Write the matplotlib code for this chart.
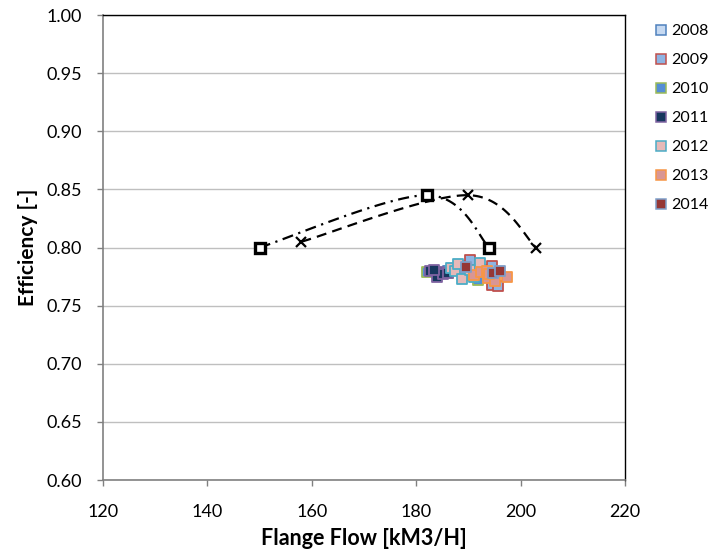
import matplotlib

matplotlib.use("Agg")
import matplotlib.pyplot as plt
from matplotlib.lines import Line2D
import numpy as np

plt.rcParams["font.family"] = ["Lato", "DejaVu Sans"]

# design curves (smoothed lines through 3 points each)
curve_a_x = [150, 182, 194]
curve_a_y = [0.800, 0.845, 0.800]
curve_b_x = [158, 190, 203]
curve_b_y = [0.805, 0.845, 0.800]

# measured points per year
years = ["2008", "2009", "2010", "2011", "2012", "2013", "2014"]
face_colors = ["#c6d9f1", "#8eb4e3", "#558ed5", "#17375e", "#e6b9b8", "#d99694", "#953735"]
edge_colors = ["#4f81bd", "#c0504d", "#9bbb59", "#8064a2", "#4bacc6", "#f79646", "#7f9fc9"]

x_2008 = [186.0, 188.5, 192.0, 193.5]
y_2008 = [0.780, 0.784, 0.779, 0.781]
x_2009 = [190.3, 194.5, 194.6, 195.7, 188.0]
y_2009 = [0.789, 0.784, 0.768, 0.767, 0.782]
x_2010 = [182.1, 191.8, 189.0, 186.0]
y_2010 = [0.779, 0.772, 0.776, 0.778]
x_2011 = [182.6, 184.2, 184.0, 185.1, 186.1, 183.5]
y_2011 = [0.780, 0.779, 0.775, 0.777, 0.778, 0.781]
x_2012 = [186.7, 187.4, 188.0, 188.8, 190.3, 192.2, 191.1]
y_2012 = [0.782, 0.780, 0.786, 0.773, 0.781, 0.787, 0.775]
x_2013 = [191.1, 192.4, 193.6, 193.8, 197.4, 195.1, 194.0]
y_2013 = [0.776, 0.779, 0.780, 0.774, 0.775, 0.771, 0.777]
x_2014 = [189.5, 194.7, 196.1]
y_2014 = [0.783, 0.778, 0.780]

series_x = [x_2008, x_2009, x_2010, x_2011, x_2012, x_2013, x_2014]
series_y = [y_2008, y_2009, y_2010, y_2011, y_2012, y_2013, y_2014]

XMIN, XMAX, YMIN, YMAX = 120, 220, 0.60, 1.00


def smooth(xs, ys, n=60):
    # Catmull-Rom style bezier through the points, computed in normalised space
    u = [(x - XMIN) / (XMAX - XMIN) * 522 for x in xs]
    v = [(y - YMIN) / (YMAX - YMIN) * 465 for y in ys]
    pts = np.array(list(zip(u, v)))
    out = []
    m = len(pts)
    for i in range(m - 1):
        p0 = pts[i]
        p3 = pts[i + 1]
        prev = pts[i - 1] if i > 0 else pts[i]
        nxt = pts[i + 2] if i + 2 < m else pts[i + 1]
        c1 = p0 + (p3 - prev) / 6.0
        c2 = p3 - (nxt - p0) / 6.0
        t = np.linspace(0, 1, n)[:, None]
        seg = (1 - t) ** 3 * p0 + 3 * (1 - t) ** 2 * t * c1 + 3 * (1 - t) * t ** 2 * c2 + t ** 3 * p3
        out.append(seg if i == 0 else seg[1:])
    seg = np.vstack(out)
    sx = seg[:, 0] / 522 * (XMAX - XMIN) + XMIN
    sy = seg[:, 1] / 465 * (YMAX - YMIN) + YMIN
    return sx, sy


fig = plt.figure(figsize=(7.24, 5.52), dpi=100)
ax = fig.add_axes([0.1423, 0.1304, 0.7210, 0.8424])

ax.set_xlim(XMIN, XMAX)
ax.set_ylim(YMIN, YMAX)
ax.set_xticks(np.arange(120, 221, 20))
ax.set_yticks(np.arange(0.60, 1.001, 0.05))
ax.set_yticklabels([f"{v:.2f}" for v in np.arange(0.60, 1.001, 0.05)])
ax.grid(True, axis="y", color="#bfbfbf", lw=1.0)
ax.set_axisbelow(True)

for side in ["top", "right"]:
    ax.spines[side].set_color("#000000")
    ax.spines[side].set_linewidth(1.0)
for side in ["left", "bottom"]:
    ax.spines[side].set_color("#808080")
    ax.spines[side].set_linewidth(1.2)
ax.tick_params(axis="both", direction="out", length=4.5, width=1, color="#808080",
               labelsize=13, labelcolor="#000000")
ax.tick_params(axis="y", pad=10.5)
ax.tick_params(axis="x", pad=12.5)

sx, sy = smooth(curve_a_x, curve_a_y)
ax.plot(sx, sy, color="black", lw=1.6, dashes=(5, 2.5, 1, 2.5), zorder=3)
sx, sy = smooth(curve_b_x, curve_b_y)
ax.plot(sx, sy, color="black", lw=1.6, dashes=(4.5, 2.8), zorder=3)

for xs, ys, fc, ec in zip(series_x, series_y, face_colors, edge_colors):
    ax.scatter(xs, ys, marker="s", s=55, facecolor=fc, edgecolor=ec, linewidths=1.3, zorder=4)

ax.plot(curve_a_x, curve_a_y, ls="none", marker="s", ms=7, mfc="white", mec="black", mew=2.4, zorder=5)
ax.plot(curve_b_x, curve_b_y, ls="none", marker="x", ms=7, mec="black", mew=1.6, zorder=5)

ax.set_xlabel("Flange Flow [kM3/H]", fontsize=15.5, fontweight="bold", labelpad=6)
ax.set_ylabel("Efficiency [-]", fontsize=15, fontweight="bold", labelpad=6)

handles = [Line2D([], [], ls="none", marker="s", ms=6.5, mfc=fc, mec=ec, mew=1.1)
           for fc, ec in zip(face_colors, edge_colors)]
fig.legend(handles, years, loc="upper left", bbox_to_anchor=(0.895, 0.968), frameon=False,
           fontsize=11.5, handlelength=0.8, handletextpad=0.25, labelspacing=0.93, borderaxespad=0)

fig.savefig("out.png", dpi=100)
